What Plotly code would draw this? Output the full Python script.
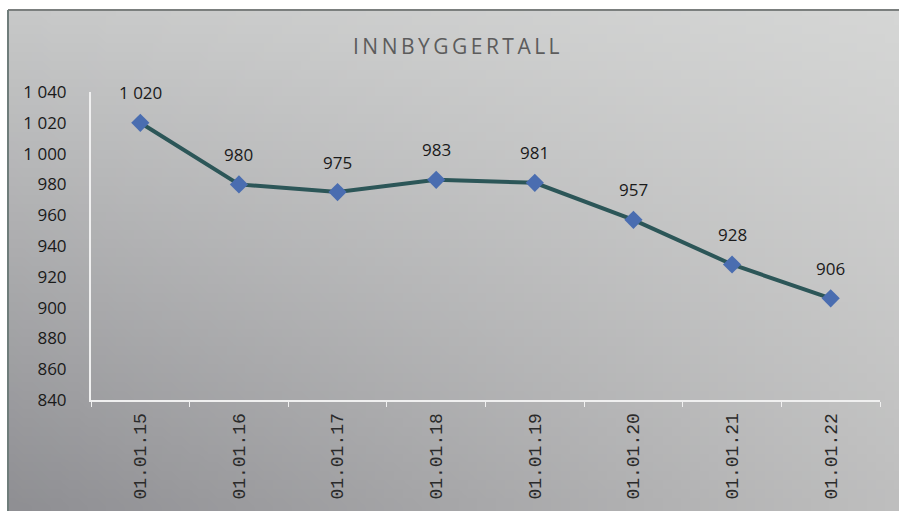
import base64
import struct
import zlib

import plotly.graph_objects as go

# ---- data ----
categories = ["01.01.15", "01.01.16", "01.01.17", "01.01.18",
              "01.01.19", "01.01.20", "01.01.21", "01.01.22"]
values = [1020, 980, 975, 983, 981, 957, 928, 906]
y_ticks = [840, 860, 880, 900, 920, 940, 960, 980, 1000, 1020, 1040]
title_text = "I\u2009N\u2009N\u2009B\u2009Y\u2009G\u2009G\u2009E\u2009R\u2009T\u2009A\u2009L\u2009L"

# ---- styling ----
W, H = 899, 511
L, R, T, B = 91, 880, 92, 400  # plot area in screen pixels

# background gradient corner colours
C_TL, C_TR, C_BL, C_BR = (199, 200, 200), (213, 214, 213), (143, 143, 147), (190, 190, 190)


def px_x(px):
    return (px - L) / (R - L)


def px_y(py):
    return (B - py) / (B - T)


def gradient_png(w, h):
    rows = []
    for j in range(h):
        fy = j / (h - 1)
        row = bytearray([0])
        for i in range(w):
            fx = i / (w - 1)
            for k in range(3):
                top = C_TL[k] + (C_TR[k] - C_TL[k]) * fx
                bot = C_BL[k] + (C_BR[k] - C_BL[k]) * fx
                row.append(int(round(top + (bot - top) * fy)))
        rows.append(bytes(row))
    raw = b"".join(rows)

    def chunk(tag, data):
        c = struct.pack(">I", len(data)) + tag + data
        return c + struct.pack(">I", zlib.crc32(tag + data) & 0xFFFFFFFF)

    png = b"\x89PNG\r\n\x1a\n"
    png += chunk(b"IHDR", struct.pack(">IIBBBBB", w, h, 8, 2, 0, 0, 0))
    png += chunk(b"IDAT", zlib.compress(raw, 9))
    png += chunk(b"IEND", b"")
    return "data:image/png;base64," + base64.b64encode(png).decode()


fig = go.Figure()
fig.add_trace(go.Scatter(
    x=categories, y=values, mode="lines+markers",
    line=dict(color="#2c5658", width=4),
    marker=dict(symbol="diamond", size=14, color="#4a6db0",
                line=dict(color="#4a6db0", width=0)),
    hoverinfo="x+y", showlegend=False,
))

label_font = dict(family="Open Sans, Noto Sans, sans-serif", size=17, color="#1a1a1a")
annotations = []
for c, v in zip(categories, values):
    annotations.append(dict(x=c, y=v, xref="x", yref="y",
                            text=f"{v:,}".replace(",", " "),
                            showarrow=False, yshift=30, font=label_font))

annotations.append(dict(x=px_x(456), y=px_y(46), xref="paper", yref="paper",
                        xanchor="center", yanchor="middle",
                        text=title_text, showarrow=False,
                        font=dict(family="Open Sans, Noto Sans, sans-serif",
                                  size=21, color="#5c5c5c")))

shapes = [
    dict(type="line", xref="paper", yref="paper", layer="below",
         x0=px_x(8), x1=px_x(W), y0=px_y(10), y1=px_y(10),
         line=dict(color="#7b7f7e", width=2)),
    dict(type="line", xref="paper", yref="paper", layer="below",
         x0=px_x(8), x1=px_x(8), y0=px_y(10), y1=px_y(H),
         line=dict(color="#6f7d7b", width=2)),
]

images = [dict(source=gradient_png(96, 56), xref="paper", yref="paper",
               x=px_x(9), y=px_y(11), sizex=px_x(W) - px_x(9), sizey=px_y(11) - px_y(H),
               xanchor="left", yanchor="top", sizing="stretch", layer="below")]

fig.update_layout(
    width=W, height=H,
    margin=dict(l=L, r=W - R, t=T, b=H - B, pad=0),
    paper_bgcolor="white",
    plot_bgcolor="rgba(0,0,0,0)",
    separators=", ",
    shapes=shapes,
    images=images,
    annotations=annotations,
    showlegend=False,
    font=dict(family="Open Sans, Noto Sans, sans-serif", size=17, color="#1a1a1a"),
)
fig.update_xaxes(
    type="category", range=[-0.5, len(categories) - 0.5],
    showline=True, linecolor="#f0f0f0", linewidth=2,
    ticks="outside", tickson="boundaries", ticklen=5, tickcolor="#f0f0f0", tickwidth=1,
    tickangle=-90, showgrid=False, zeroline=False, ticklabelstandoff=4,
    tickfont=dict(family="Liberation Mono, DejaVu Sans Mono, monospace", size=18, color="#2a2a2a"),
)
fig.update_yaxes(
    range=[840, 1040], tickvals=y_ticks, tickformat=",d",
    showline=True, linecolor="#f0f0f0", linewidth=2,
    ticks="", showgrid=False, zeroline=False, ticklabelstandoff=19,
    tickfont=label_font,
)

fig.write_html("out.html", config={"displayModeBar": False},
               post_script="document.body.style.margin='0';document.body.style.overflow='hidden';")
